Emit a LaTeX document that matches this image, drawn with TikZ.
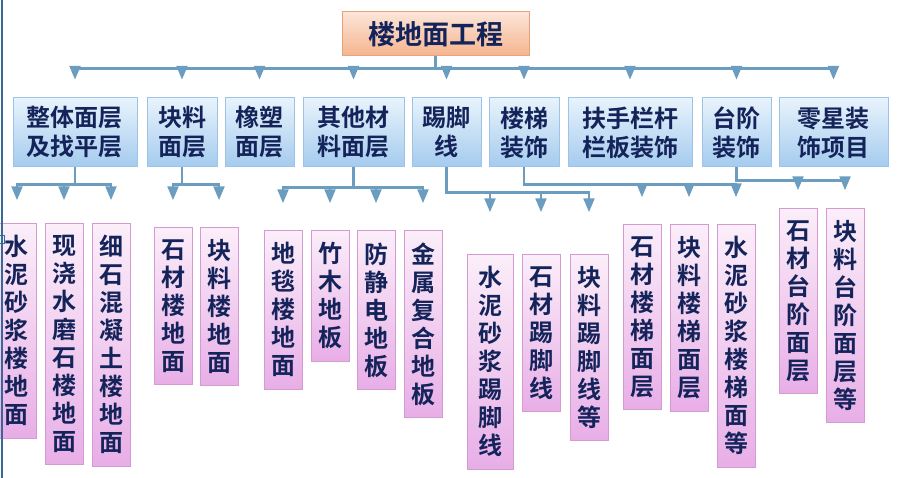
\documentclass[tikz,border=0pt]{standalone}
\usepackage{fontspec}
\usepackage{tikz}
\usetikzlibrary{arrows}
\newfontfamily\cjk{Noto Sans CJK SC}[BoldFont={Noto Sans CJK SC Bold}]
\XeTeXlinebreaklocale "zh"
\XeTeXlinebreakskip=0pt plus 1pt
\definecolor{ink}{HTML}{14245A}
\definecolor{headtop}{HTML}{FCE5D8}
\definecolor{headbot}{HTML}{F5B48E}
\definecolor{headedge}{HTML}{E8A27A}
\definecolor{parttop}{HTML}{E8F3FC}
\definecolor{partbot}{HTML}{A4CBEE}
\definecolor{partedge}{HTML}{9DC3E6}
\definecolor{itemtop}{HTML}{FBEEF9}
\definecolor{itembot}{HTML}{E8AEE7}
\definecolor{itemedge}{HTML}{D49AD4}
\definecolor{linkc}{HTML}{6B9DC1}
\definecolor{frame}{HTML}{3A6896}

\begin{document}
\begin{tikzpicture}[x=1pt,y=-1pt,
	every node/.style={text=ink},
	head/.style={draw=headedge, line width=1pt, top color=headtop, bottom color=headbot, minimum width=187pt, minimum height=44pt, font=\cjk\bfseries\fontsize{27}{30}\selectfont},
	part/.style={draw=partedge, line width=1pt, top color=parttop, bottom color=partbot, minimum height=69pt, align=center, font=\cjk\bfseries\fontsize{24}{29}\selectfont},
	item/.style={draw=itemedge, line width=1pt, top color=itemtop, bottom color=itembot, anchor=north, text width=26pt, inner xsep=6pt, inner ysep=12pt, align=center, font=\cjk\bfseries\fontsize{24}{28}\selectfont},
	link/.style={draw=linkc, line width=2.2pt, -triangle 45}]
	\useasboundingbox (0,0) rectangle (900,478);
	\node[head] (top) at (435.5,34) {楼地面工程};
	\node[part, minimum width=124pt] (p1) at (75,132.5) {整体面层\\及找平层};
	\node[part, minimum width=70pt] (p2) at (182,132.5) {块料\\面层};
	\node[part, minimum width=69pt] (p3) at (259.5,132.5) {橡塑\\面层};
	\node[part, minimum width=101pt] (p4) at (353.5,132.5) {其他材\\料面层};
	\node[part, minimum width=69pt] (p5) at (446.5,132.5) {踢脚\\线};
	\node[part, minimum width=70pt] (p6) at (524,132.5) {楼梯\\装饰};
	\node[part, minimum width=124pt] (p7) at (630,132.5) {扶手栏杆\\栏板装饰};
	\node[part, minimum width=69pt] (p8) at (736.5,132.5) {台阶\\装饰};
	\node[part, minimum width=109pt] (p9) at (833.5,132.5) {零星装\\饰项目};
	\node[item] (a) at (17,223) {水泥砂浆楼地面};
	\node[item] (b) at (64,223) {现浇水磨石楼地面};
	\node[item] (c) at (111,223) {细石混凝土楼地面};
	\node[item] (d) at (173,227) {石材楼地面};
	\node[item] (e) at (219,227) {块料楼地面};
	\node[item] (f) at (283,230) {地毯楼地面};
	\node[item] (g) at (330,230) {竹木地板};
	\node[item] (h) at (376,230) {防静电地板};
	\node[item] (i) at (423,230) {金属复合地板};
	\node[item, inner xsep=10pt] (j) at (490,254) {水泥砂浆踢脚线};
	\node[item] (k) at (541,254) {石材踢脚线};
	\node[item] (l) at (589,254) {块料踢脚线等};
	\node[item] (m) at (642,224) {石材楼梯面层};
	\node[item] (n) at (689,224) {块料楼梯面层};
	\node[item] (o) at (736,224) {水泥砂浆楼梯面等};
	\node[item] (p) at (798,208) {石材台阶面层};
	\node[item] (q) at (845,208) {块料台阶面层等};
	\draw[link] (top.south) -- ++(0,12) -| ([yshift=18pt]p1.north);
	\draw[link] (top.south) -- ++(0,12) -| ([yshift=18pt]p2.north);
	\draw[link] (top.south) -- ++(0,12) -| ([yshift=18pt]p3.north);
	\draw[link] (top.south) -- ++(0,12) -| ([yshift=18pt]p4.north);
	\draw[link] (top.south) -- ++(0,12) -| ([yshift=18pt]p5.north);
	\draw[link] (top.south) -- ++(0,12) -| ([yshift=18pt]p6.north);
	\draw[link] (top.south) -- ++(0,12) -| ([yshift=18pt]p7.north);
	\draw[link] (top.south) -- ++(0,12) -| ([yshift=18pt]p8.north);
	\draw[link] (top.south) -- ++(0,12) -| ([yshift=18pt]p9.north);
	\draw[link] (p1.south) -- ++(0,17) -| ([yshift=23pt]a.north);
	\draw[link] (p1.south) -- ++(0,17) -| ([yshift=23pt]b.north);
	\draw[link] (p1.south) -- ++(0,17) -| ([yshift=23pt]c.north);
	\draw[link] (p2.south) -- ++(0,17) -| ([yshift=27pt]d.north);
	\draw[link] (p2.south) -- ++(0,17) -| ([yshift=27pt]e.north);
	\draw[link] (p4.south) -- ++(0,20) -| ([yshift=27pt]f.north);
	\draw[link] (p4.south) -- ++(0,20) -| ([yshift=27pt]g.north);
	\draw[link] (p4.south) -- ++(0,20) -| ([yshift=27pt]h.north);
	\draw[link] (p4.south) -- ++(0,20) -| ([yshift=27pt]i.north);
	\draw[link] (p5.south) -- ++(0,25) -| ([yshift=42pt]j.north);
	\draw[link] (p5.south) -- ++(0,25) -| ([yshift=42pt]k.north);
	\draw[link] (p5.south) -- ++(0,25) -| ([yshift=42pt]l.north);
	\draw[link] (p6.south) -- ++(0,17) -| ([yshift=27pt]m.north);
	\draw[link] (p6.south) -- ++(0,17) -| ([yshift=27pt]n.north);
	\draw[link] (p6.south) -- ++(0,17) -| ([yshift=27pt]o.north);
	\draw[link] (p8.south) -- ++(0,13) -| ([yshift=18pt]p.north);
	\draw[link] (p8.south) -- ++(0,13) -| ([yshift=18pt]q.north);
	\draw[frame, fill=parttop] (-1,235) rectangle (4,243);
	\draw[frame, line width=2pt] (1.5,0) -- (1.5,478);
\end{tikzpicture}
\end{document}
